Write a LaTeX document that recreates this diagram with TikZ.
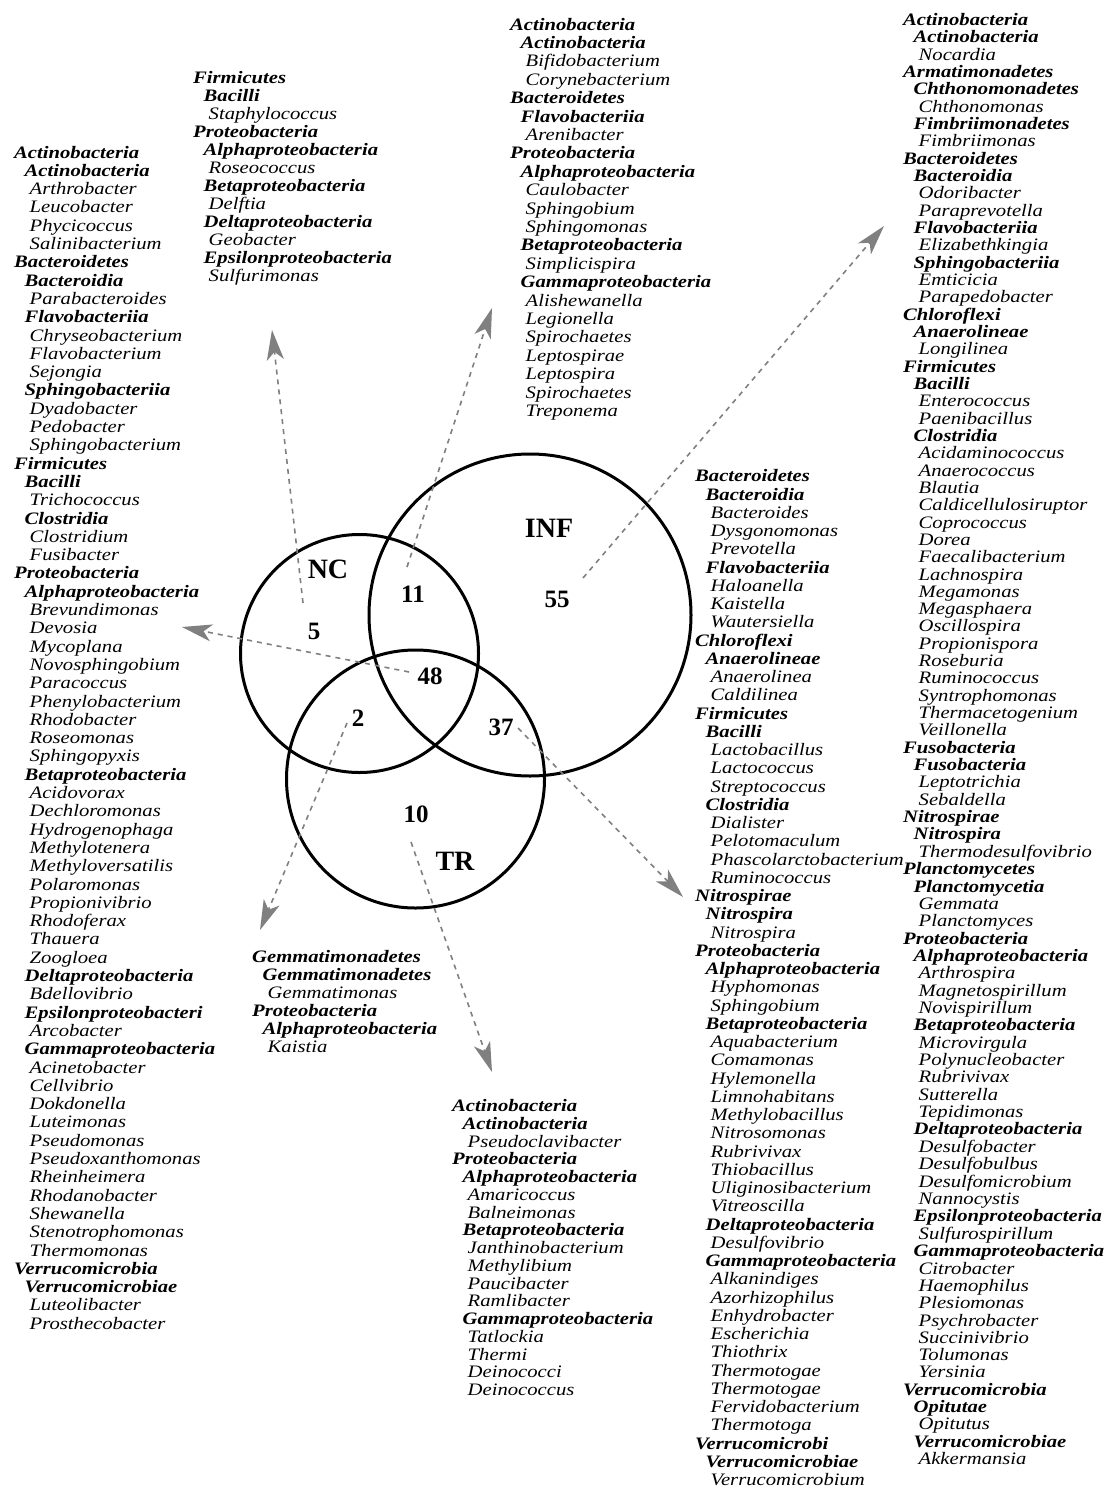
\documentclass[tikz,border=0pt]{standalone}
\usepackage{fontspec}
\setmainfont{Liberation Serif}
\newfontfamily\listfont{Liberation Serif}[FakeStretch=1.18]
\usetikzlibrary{arrows.meta}

\newcommand{\phy}[1]{\textbf{\textit{#1}}}
\newcommand{\cla}[1]{\hspace*{10.5pt}\textbf{\textit{#1}}}
\newcommand{\gen}[1]{\hspace*{15.5pt}\textit{#1}}
\newcommand{\taxlist}[1]{\begin{tabular}{@{}l@{}}#1\end{tabular}}

\begin{document}
\begin{tikzpicture}[x=1pt,y={(0pt,-1pt)},
  set/.style={draw=black,line width=3pt,circle,inner sep=0pt},
  setname/.style={font=\fontsize{28}{30}\selectfont\bfseries},
  count/.style={font=\fontsize{25}{27}\selectfont\bfseries},
  taxa/.style={font=\listfont\fontsize{17.5}{#1}\selectfont,anchor=north west,inner sep=0pt},
  link/.style={draw=black!50,line width=1.6pt,dash pattern=on 5pt off 5pt,-{Stealth[length=30pt,width=17pt,inset=8pt]}}]

\path[fill=white] (0,0) rectangle (1113,1488);
\useasboundingbox (0,0) rectangle (1113,1488);

		\node[set,minimum size=322pt] (inf) at (530,615) {};
		\node[set,minimum size=238pt] (nc) at (359.5,653.5) {};
		\node[set,minimum size=258pt] (tr) at (415.5,779) {};

		\node[setname] (infname) at (549,528) {INF};
		\node[setname] (ncname) at (328,569) {NC};
		\node[setname] (trname) at (455,861) {TR};

		\node[count] (n55) at (557,599) {55};
		\node[count] (n11) at (413,594) {11};
		\node[count] (n5) at (314,631) {5};
		\node[count] (n48) at (430,676) {48};
		\node[count] (n2) at (358,718) {2};
		\node[count] (n37) at (501,727) {37};
		\node[count] (n10) at (416,814) {10};

		\coordinate (f5) at (303,603);  \coordinate (t5) at (272,330);
		\coordinate (f11) at (407,567); \coordinate (t11) at (492,308);
		\coordinate (f55) at (583,578); \coordinate (t55) at (884,226);
		\coordinate (f48) at (409,672); \coordinate (t48) at (182,627);
		\coordinate (f2) at (347,723);  \coordinate (t2) at (260,930);
		\coordinate (f10) at (411,842); \coordinate (t10) at (492,1072);
		\coordinate (f37) at (518,728); \coordinate (t37) at (683,897);

		\draw[link] (f5)--(t5);
		\draw[link] (f11)--(t11);
		\draw[link] (f55)--(t55);
		\draw[link] (f48)--(t48);
		\draw[link] (f2)--(t2);
		\draw[link] (f10)--(t10);
		\draw[link] (f37)--(t37);

\node[taxa=18.3] (listall) at (14,145) {\taxlist{\phy{Actinobacteria}\\ \cla{Actinobacteria}\\ \gen{Arthrobacter}\\ \gen{Leucobacter}\\ \gen{Phycicoccus}\\ \gen{Salinibacterium}\\
 \phy{Bacteroidetes}\\ \cla{Bacteroidia}\\ \gen{Parabacteroides}\\ \cla{Flavobacteriia}\\ \gen{Chryseobacterium}\\ \gen{Flavobacterium}\\ \gen{Sejongia}\\
 \cla{Sphingobacteriia}\\ \gen{Dyadobacter}\\ \gen{Pedobacter}\\ \gen{Sphingobacterium}\\
 \phy{Firmicutes}\\ \cla{Bacilli}\\ \gen{Trichococcus}\\ \cla{Clostridia}\\ \gen{Clostridium}\\ \gen{Fusibacter}\\
 \phy{Proteobacteria}\\ \cla{Alphaproteobacteria}\\ \gen{Brevundimonas}\\ \gen{Devosia}\\ \gen{Mycoplana}\\ \gen{Novosphingobium}\\ \gen{Paracoccus}\\
 \gen{Phenylobacterium}\\ \gen{Rhodobacter}\\ \gen{Roseomonas}\\ \gen{Sphingopyxis}\\
 \cla{Betaproteobacteria}\\ \gen{Acidovorax}\\ \gen{Dechloromonas}\\ \gen{Hydrogenophaga}\\ \gen{Methylotenera}\\ \gen{Methyloversatilis}\\
 \gen{Polaromonas}\\ \gen{Propionivibrio}\\ \gen{Rhodoferax}\\ \gen{Thauera}\\ \gen{Zoogloea}\\
 \cla{Deltaproteobacteria}\\ \gen{Bdellovibrio}\\ \cla{Epsilonproteobacteri}\\ \gen{Arcobacter}\\
 \cla{Gammaproteobacteria}\\ \gen{Acinetobacter}\\ \gen{Cellvibrio}\\ \gen{Dokdonella}\\ \gen{Luteimonas}\\ \gen{Pseudomonas}\\
 \gen{Pseudoxanthomonas}\\ \gen{Rheinheimera}\\ \gen{Rhodanobacter}\\ \gen{Shewanella}\\ \gen{Stenotrophomonas}\\ \gen{Thermomonas}\\
 \phy{Verrucomicrobia}\\ \cla{Verrucomicrobiae}\\ \gen{Luteolibacter}\\ \gen{Prosthecobacter}}};

\node[taxa=18.0] (listnc) at (193,71) {\taxlist{\phy{Firmicutes}\\ \cla{Bacilli}\\ \gen{Staphylococcus}\\
 \phy{Proteobacteria}\\ \cla{Alphaproteobacteria}\\ \gen{Roseococcus}\\ \cla{Betaproteobacteria}\\ \gen{Delftia}\\
 \cla{Deltaproteobacteria}\\ \gen{Geobacter}\\ \cla{Epsilonproteobacteria}\\ \gen{Sulfurimonas}}};

\node[taxa=18.4] (listncinf) at (510,17) {\taxlist{\phy{Actinobacteria}\\ \cla{Actinobacteria}\\ \gen{Bifidobacterium}\\ \gen{Corynebacterium}\\
 \phy{Bacteroidetes}\\ \cla{Flavobacteriia}\\ \gen{Arenibacter}\\
 \phy{Proteobacteria}\\ \cla{Alphaproteobacteria}\\ \gen{Caulobacter}\\ \gen{Sphingobium}\\ \gen{Sphingomonas}\\
 \cla{Betaproteobacteria}\\ \gen{Simplicispira}\\ \cla{Gammaproteobacteria}\\ \gen{Alishewanella}\\ \gen{Legionella}\\
 \gen{Spirochaetes}\\ \gen{Leptospirae}\\ \gen{Leptospira}\\ \gen{Spirochaetes}\\ \gen{Treponema}}};

\node[taxa=17.3] (listinf) at (903,13) {\taxlist{\phy{Actinobacteria}\\ \cla{Actinobacteria}\\ \gen{Nocardia}\\
 \phy{Armatimonadetes}\\ \cla{Chthonomonadetes}\\ \gen{Chthonomonas}\\ \cla{Fimbriimonadetes}\\ \gen{Fimbriimonas}\\
 \phy{Bacteroidetes}\\ \cla{Bacteroidia}\\ \gen{Odoribacter}\\ \gen{Paraprevotella}\\ \cla{Flavobacteriia}\\ \gen{Elizabethkingia}\\
 \cla{Sphingobacteriia}\\ \gen{Emticicia}\\ \gen{Parapedobacter}\\
 \phy{Chloroflexi}\\ \cla{Anaerolineae}\\ \gen{Longilinea}\\
 \phy{Firmicutes}\\ \cla{Bacilli}\\ \gen{Enterococcus}\\ \gen{Paenibacillus}\\ \cla{Clostridia}\\
 \gen{Acidaminococcus}\\ \gen{Anaerococcus}\\ \gen{Blautia}\\ \gen{Caldicellulosiruptor}\\ \gen{Coprococcus}\\ \gen{Dorea}\\
 \gen{Faecalibacterium}\\ \gen{Lachnospira}\\ \gen{Megamonas}\\ \gen{Megasphaera}\\ \gen{Oscillospira}\\ \gen{Propionispora}\\
 \gen{Roseburia}\\ \gen{Ruminococcus}\\ \gen{Syntrophomonas}\\ \gen{Thermacetogenium}\\ \gen{Veillonella}\\
 \phy{Fusobacteria}\\ \cla{Fusobacteria}\\ \gen{Leptotrichia}\\ \gen{Sebaldella}\\
 \phy{Nitrospirae}\\ \cla{Nitrospira}\\ \gen{Thermodesulfovibrio}\\
 \phy{Planctomycetes}\\ \cla{Planctomycetia}\\ \gen{Gemmata}\\ \gen{Planctomyces}\\
 \phy{Proteobacteria}\\ \cla{Alphaproteobacteria}\\ \gen{Arthrospira}\\ \gen{Magnetospirillum}\\ \gen{Novispirillum}\\
 \cla{Betaproteobacteria}\\ \gen{Microvirgula}\\ \gen{Polynucleobacter}\\ \gen{Rubrivivax}\\ \gen{Sutterella}\\ \gen{Tepidimonas}\\
 \cla{Deltaproteobacteria}\\ \gen{Desulfobacter}\\ \gen{Desulfobulbus}\\ \gen{Desulfomicrobium}\\ \gen{Nannocystis}\\
 \cla{Epsilonproteobacteria}\\ \gen{Sulfurospirillum}\\
 \cla{Gammaproteobacteria}\\ \gen{Citrobacter}\\ \gen{Haemophilus}\\ \gen{Plesiomonas}\\ \gen{Psychrobacter}\\ \gen{Succinivibrio}\\
 \gen{Tolumonas}\\ \gen{Yersinia}\\
 \phy{Verrucomicrobia}\\ \cla{Opitutae}\\ \gen{Opitutus}\\ \cla{Verrucomicrobiae}\\ \gen{Akkermansia}}};

\node[taxa=18.25] (listinftr) at (695,469) {\taxlist{\phy{Bacteroidetes}\\ \cla{Bacteroidia}\\ \gen{Bacteroides}\\ \gen{Dysgonomonas}\\ \gen{Prevotella}\\
 \cla{Flavobacteriia}\\ \gen{Haloanella}\\ \gen{Kaistella}\\ \gen{Wautersiella}\\
 \phy{Chloroflexi}\\ \cla{Anaerolineae}\\ \gen{Anaerolinea}\\ \gen{Caldilinea}\\
 \phy{Firmicutes}\\ \cla{Bacilli}\\ \gen{Lactobacillus}\\ \gen{Lactococcus}\\ \gen{Streptococcus}\\
 \cla{Clostridia}\\ \gen{Dialister}\\ \gen{Pelotomaculum}\\ \gen{Phascolarctobacterium}\\ \gen{Ruminococcus}\\
 \phy{Nitrospirae}\\ \cla{Nitrospira}\\ \gen{Nitrospira}\\
 \phy{Proteobacteria}\\ \cla{Alphaproteobacteria}\\ \gen{Hyphomonas}\\ \gen{Sphingobium}\\
 \cla{Betaproteobacteria}\\ \gen{Aquabacterium}\\ \gen{Comamonas}\\ \gen{Hylemonella}\\ \gen{Limnohabitans}\\ \gen{Methylobacillus}\\
 \gen{Nitrosomonas}\\ \gen{Rubrivivax}\\ \gen{Thiobacillus}\\ \gen{Uliginosibacterium}\\ \gen{Vitreoscilla}\\
 \cla{Deltaproteobacteria}\\ \gen{Desulfovibrio}\\
 \cla{Gammaproteobacteria}\\ \gen{Alkanindiges}\\ \gen{Azorhizophilus}\\ \gen{Enhydrobacter}\\ \gen{Escherichia}\\ \gen{Thiothrix}\\
 \gen{Thermotogae}\\ \gen{Thermotogae}\\ \gen{Fervidobacterium}\\ \gen{Thermotoga}\\
 \phy{Verrucomicrobi}\\ \cla{Verrucomicrobiae}\\ \gen{Verrucomicrobium}}};

\node[taxa=18.0] (listnctr) at (252,950) {\taxlist{\phy{Gemmatimonadetes}\\ \cla{Gemmatimonadetes}\\ \gen{Gemmatimonas}\\
 \phy{Proteobacteria}\\ \cla{Alphaproteobacteria}\\ \gen{Kaistia}}};

\node[taxa=17.75] (listtr) at (452,1099) {\taxlist{\phy{Actinobacteria}\\ \cla{Actinobacteria}\\ \gen{Pseudoclavibacter}\\
 \phy{Proteobacteria}\\ \cla{Alphaproteobacteria}\\ \gen{Amaricoccus}\\ \gen{Balneimonas}\\
 \cla{Betaproteobacteria}\\ \gen{Janthinobacterium}\\ \gen{Methylibium}\\ \gen{Paucibacter}\\ \gen{Ramlibacter}\\
 \cla{Gammaproteobacteria}\\ \gen{Tatlockia}\\ \gen{Thermi}\\ \gen{Deinococci}\\ \gen{Deinococcus}}};

\end{tikzpicture}
\end{document}
